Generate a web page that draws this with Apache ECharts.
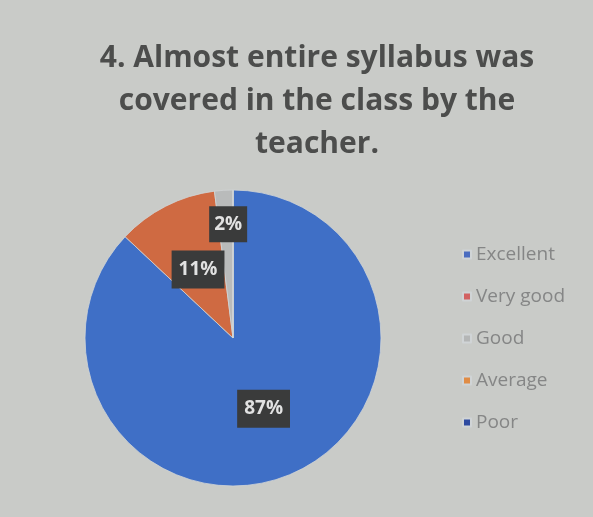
<!DOCTYPE html>
<html>
<head>
<meta charset="utf-8">
<script src="https://cdn.jsdelivr.net/npm/echarts@6/dist/echarts.min.js"></script>
<style>html,body{margin:0;padding:0;background:#c9cbc8}#c{width:593px;height:517px}</style>
</head>
<body>
<div id="c"></div>
<script>
const titleText = "4. Almost entire syllabus was\ncovered in the class by the\nteacher.";
const categories = ["Excellent", "Very good", "Good", "Average", "Poor"];
const values = [87, 11, 2, 0, 0];
const colors = ["#3f6fc6", "#cf6a42", "#b9bbbb", "#e08c3c", "#2d4ea6"];
const legendColors = ["#4a6cc0", "#d26262", "#b4b6b6", "#e08c45", "#2d4aa0"];

const chart = echarts.init(document.getElementById('c'));
const data = categories.map((name, i) => {
  const item = { name: name, value: values[i], itemStyle: { color: colors[i] } };
  if (values[i] === 0) item.label = { show: false };
  if (name === "Good") item.label = { offset: [0, -37], padding: [9, 5, 8, 5] };
  return item;
});
chart.setOption({
  backgroundColor: '#c9cbc8',
  animation: false,
  title: {
    text: titleText,
    left: 312,
    textAlign: 'center',
    top: 32,
    textStyle: { fontFamily: 'Open Sans', fontWeight: 'bold', fontSize: 30, lineHeight: 43, color: '#4c4d4c' }
  },
  legend: {
    orient: 'vertical',
    left: 457,
    top: 237,
    itemWidth: 8,
    itemHeight: 8,
    itemGap: 17,
    icon: 'rect',
    data: categories.map((n, i) => ({ name: n, itemStyle: { color: legendColors[i] } })),
    textStyle: { fontFamily: 'Open Sans', fontSize: 19, lineHeight: 25, color: '#858686', padding: [0, 0, 0, 0] }
  },
  series: [{
    type: 'pie',
    center: [233, 338],
    radius: 148,
    startAngle: 90,
    clockwise: true,
    avoidLabelOverlap: false,
    itemStyle: { borderColor: '#d0d4d6', borderWidth: 0.8 },
    label: {
      show: true,
      position: 'inside',
      formatter: p => p.value + '%',
      fontFamily: 'Open Sans',
      fontWeight: 'bold',
      fontSize: 19,
      color: '#e2e2e2',
      backgroundColor: '#3a3b3b',
      padding: [10, 7, 9, 7]
    },
    labelLine: { show: false },
    emphasis: { disabled: true },
    data: data
  }]
});
</script>
</body>
</html>
